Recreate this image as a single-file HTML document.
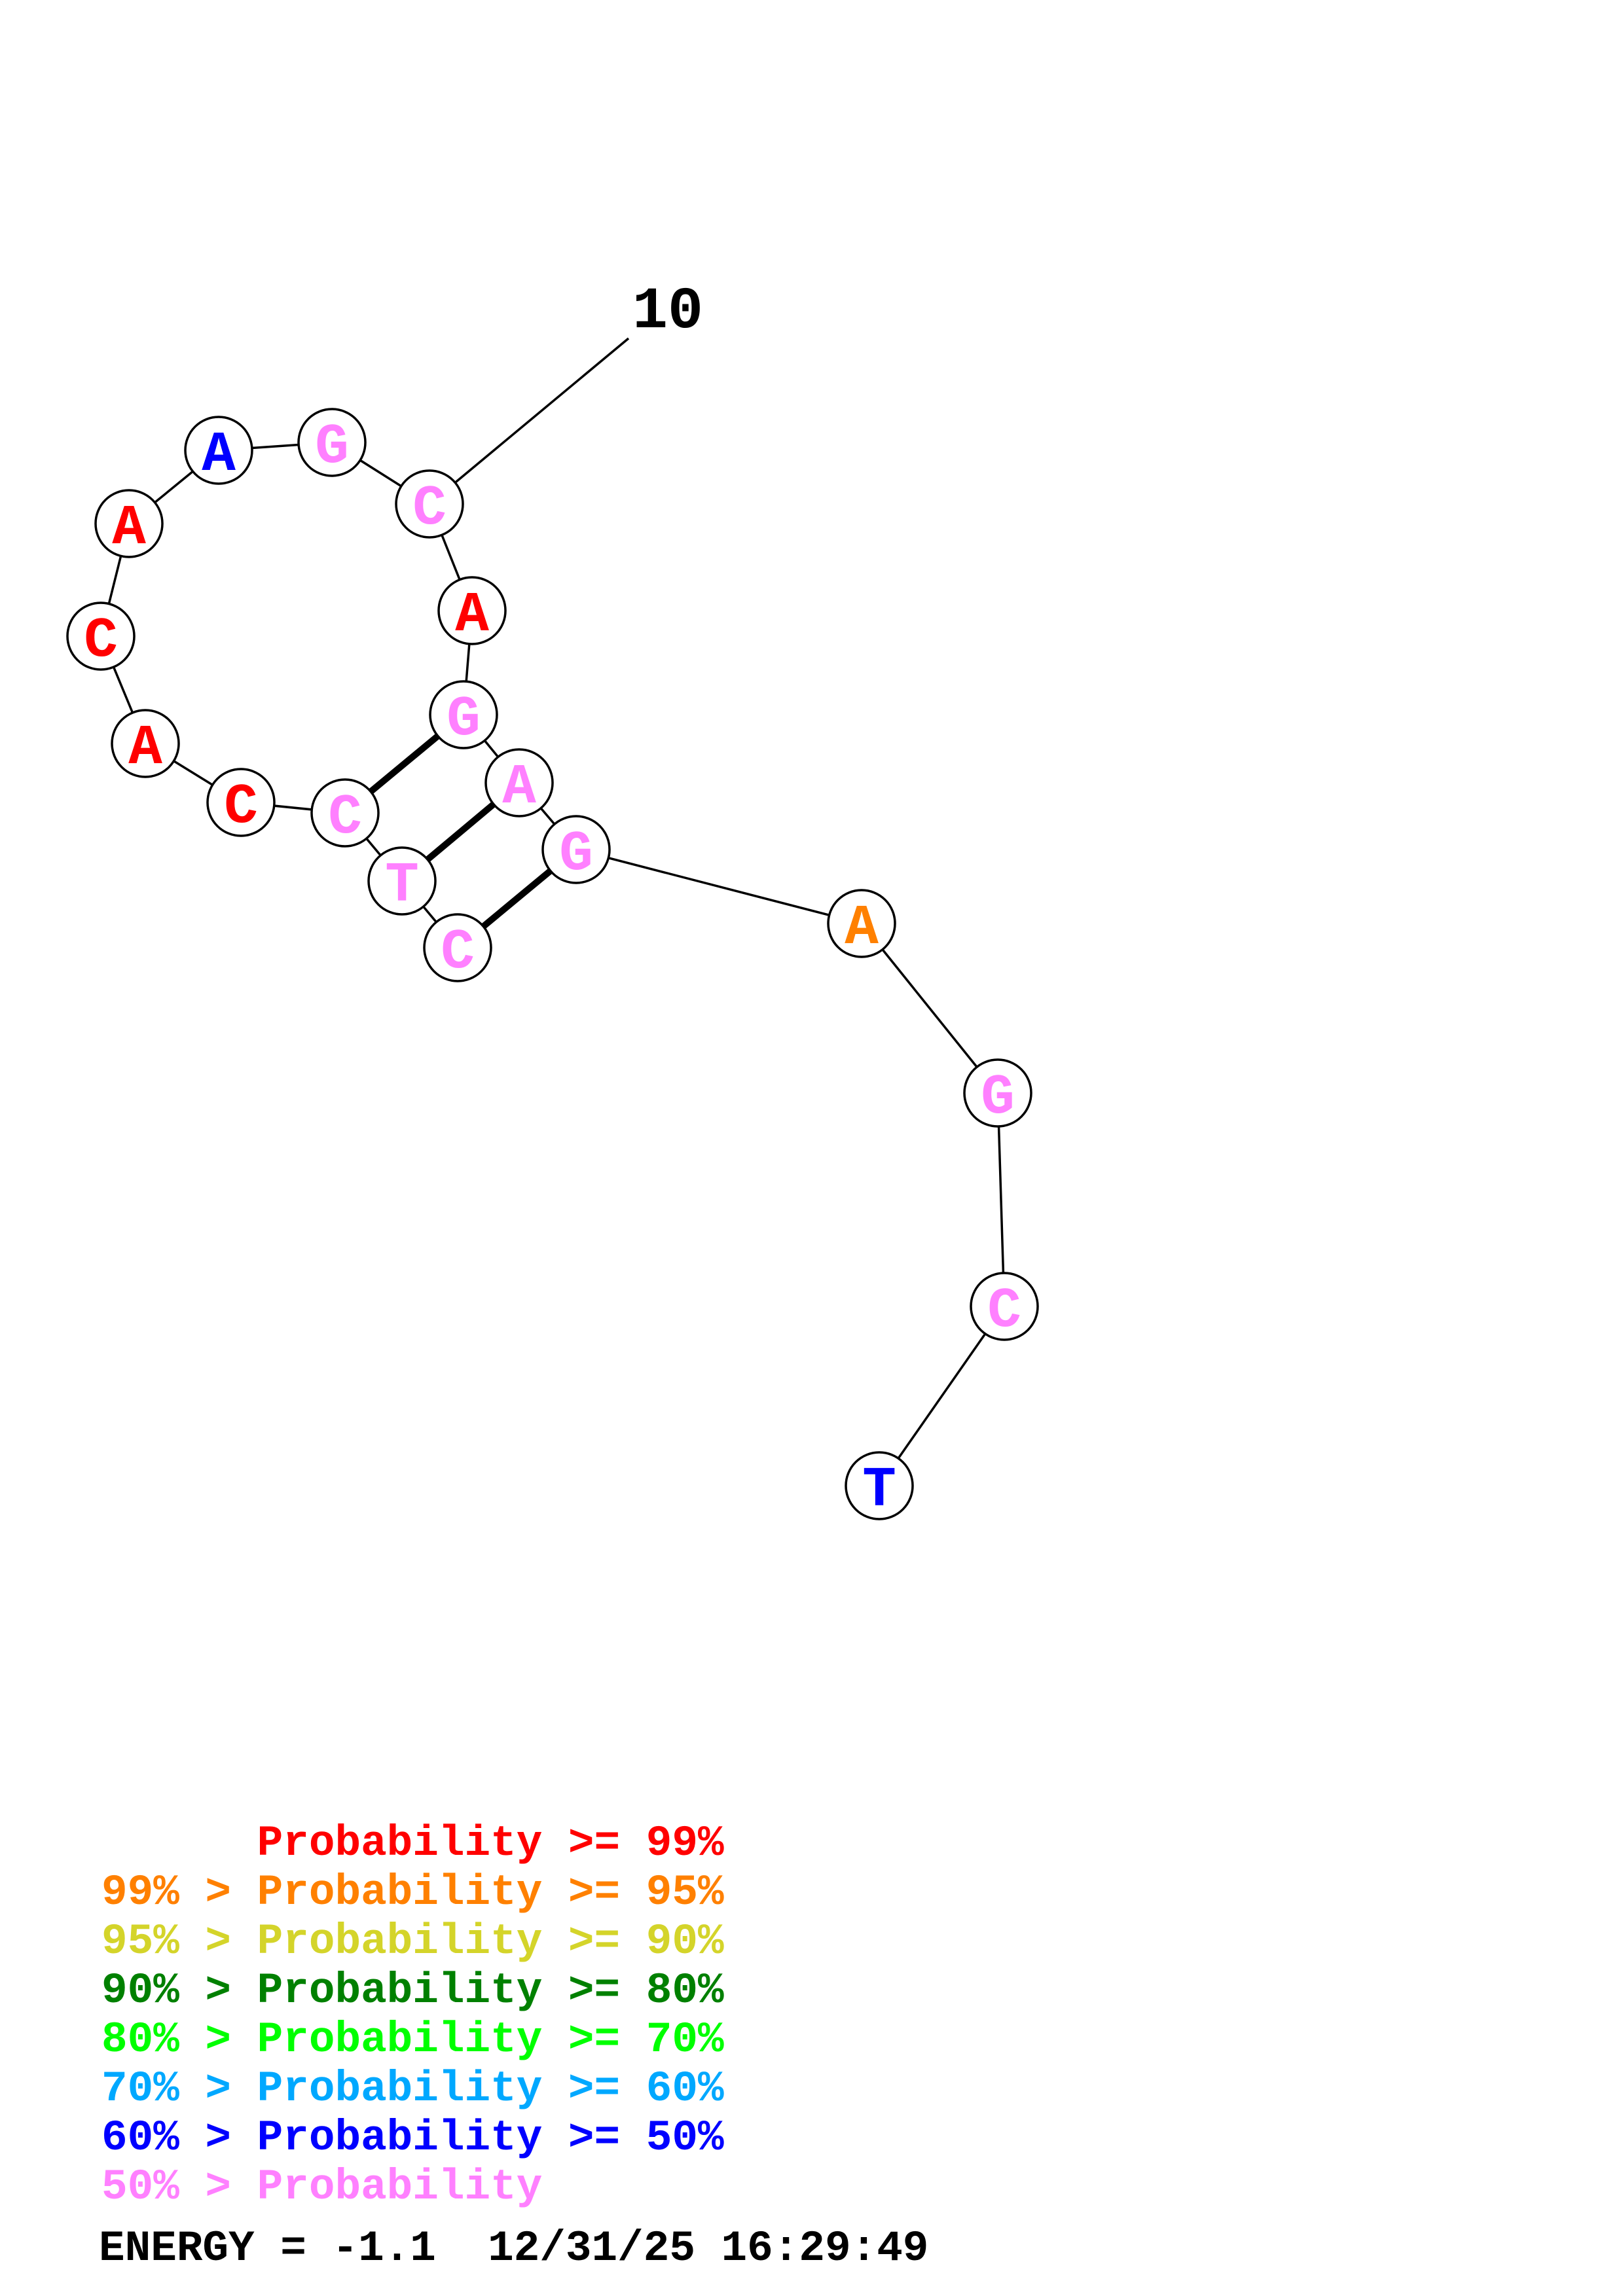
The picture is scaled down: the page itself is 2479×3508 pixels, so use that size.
<!DOCTYPE html>
<html><head><style>html,body{margin:0;padding:0;background:#fff}svg{display:block}text{white-space:pre}</style></head>
<body>
<svg width="2479" height="3508" viewBox="0 0 2479 3508" xmlns="http://www.w3.org/2000/svg">
<g stroke="#000" stroke-width="3.5">
<line x1="960" y1="517" x2="656" y2="770"/>
<line x1="656" y1="770" x2="507" y2="676"/>
<line x1="507" y1="676" x2="334" y2="688"/>
<line x1="334" y1="688" x2="197" y2="800"/>
<line x1="197" y1="800" x2="154" y2="972"/>
<line x1="154" y1="972" x2="222" y2="1136"/>
<line x1="222" y1="1136" x2="368" y2="1226"/>
<line x1="368" y1="1226" x2="527" y2="1242"/>
<line x1="527" y1="1242" x2="614" y2="1346"/>
<line x1="614" y1="1346" x2="699" y2="1448"/>
<line x1="656" y1="770" x2="721" y2="933"/>
<line x1="721" y1="933" x2="708" y2="1092"/>
<line x1="708" y1="1092" x2="793" y2="1196"/>
<line x1="793" y1="1196" x2="880" y2="1298"/>
<line x1="880" y1="1298" x2="1316" y2="1411"/>
<line x1="1316" y1="1411" x2="1524" y2="1670"/>
<line x1="1524" y1="1670" x2="1534" y2="1996"/>
<line x1="1534" y1="1996" x2="1343" y2="2270"/>
</g>
<g stroke="#000" stroke-width="10">
<line x1="527" y1="1242" x2="708" y2="1092"/>
<line x1="614" y1="1346" x2="793" y2="1196"/>
<line x1="699" y1="1448" x2="880" y2="1298"/>
</g>
<g fill="#fff" stroke="#000" stroke-width="3.5">
<circle cx="656" cy="770" r="51"/><circle cx="507" cy="676" r="51"/><circle cx="334" cy="688" r="51"/>
<circle cx="197" cy="800" r="51"/><circle cx="154" cy="972" r="51"/><circle cx="222" cy="1136" r="51"/>
<circle cx="368" cy="1226" r="51"/><circle cx="527" cy="1242" r="51"/><circle cx="614" cy="1346" r="51"/>
<circle cx="699" cy="1448" r="51"/><circle cx="721" cy="933" r="51"/><circle cx="708" cy="1092" r="51"/>
<circle cx="793" cy="1196" r="51"/><circle cx="880" cy="1298" r="51"/><circle cx="1316" cy="1411" r="51"/>
<circle cx="1524" cy="1670" r="51"/><circle cx="1534" cy="1996" r="51"/><circle cx="1343" cy="2270" r="51"/>
</g>
<g font-family="'Liberation Mono','Courier New',monospace" font-weight="bold" font-size="86" text-anchor="middle">
<text x="656" y="800" fill="#ff80ff">C</text>
<text x="507" y="706" fill="#ff80ff">G</text>
<text x="334" y="718" fill="#0000ff">A</text>
<text x="197" y="830" fill="#ff0000">A</text>
<text x="154" y="1002" fill="#ff0000">C</text>
<text x="222" y="1166" fill="#ff0000">A</text>
<text x="368" y="1256" fill="#ff0000">C</text>
<text x="527" y="1272" fill="#ff80ff">C</text>
<text x="614" y="1376" fill="#ff80ff">T</text>
<text x="699" y="1478" fill="#ff80ff">C</text>
<text x="721" y="963" fill="#ff0000">A</text>
<text x="708" y="1122" fill="#ff80ff">G</text>
<text x="793" y="1226" fill="#ff80ff">A</text>
<text x="880" y="1328" fill="#ff80ff">G</text>
<text x="1316" y="1441" fill="#ff8000">A</text>
<text x="1524" y="1700" fill="#ff80ff">G</text>
<text x="1534" y="2026" fill="#ff80ff">C</text>
<text x="1343" y="2300" fill="#0000ff">T</text>
<text x="1020" y="500" fill="#000" font-size="90">10</text>
</g>
<g font-family="'Liberation Mono','Courier New',monospace" font-weight="bold" font-size="66">
<text x="155" y="2834" fill="#ff0000">      Probability &gt;= 99%</text>
<text x="155" y="2909" fill="#ff8000">99% &gt; Probability &gt;= 95%</text>
<text x="155" y="2984" fill="#d4d42a">95% &gt; Probability &gt;= 90%</text>
<text x="155" y="3059" fill="#008000">90% &gt; Probability &gt;= 80%</text>
<text x="155" y="3134" fill="#00ff00">80% &gt; Probability &gt;= 70%</text>
<text x="155" y="3209" fill="#00a8ff">70% &gt; Probability &gt;= 60%</text>
<text x="155" y="3284" fill="#0000ff">60% &gt; Probability &gt;= 50%</text>
<text x="155" y="3359" fill="#ff80ff">50% &gt; Probability</text>
<text x="151" y="3453" fill="#000">ENERGY = -1.1  12/31/25 16:29:49</text>
</g>
</svg>
</body></html>
